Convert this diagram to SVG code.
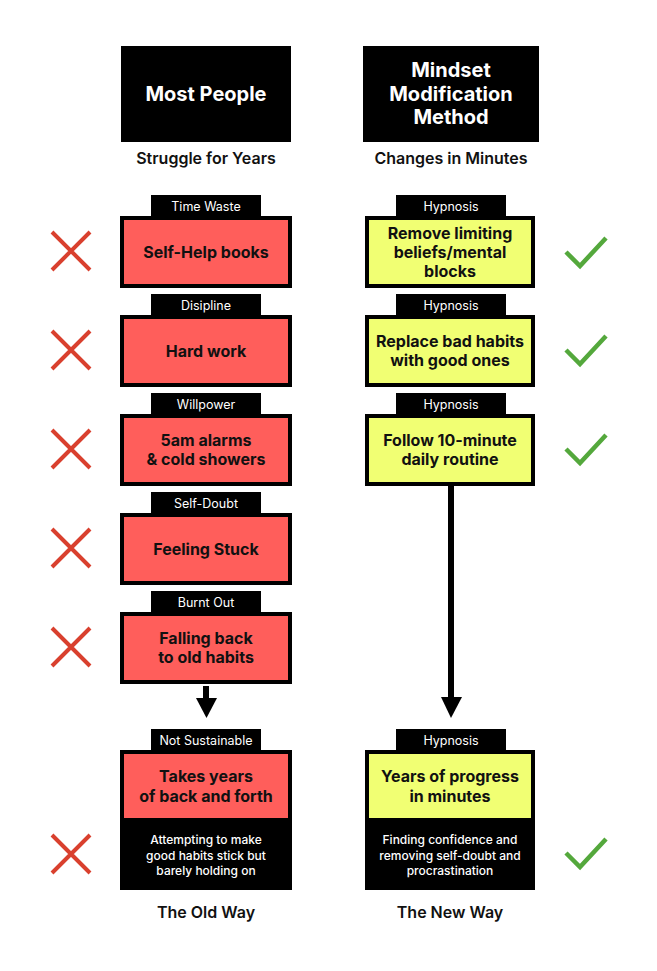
<svg xmlns="http://www.w3.org/2000/svg" width="657" height="971" viewBox="0 0 657 971">
<style>
.hdr{fill:#000}
.htxt{font-family:Inter,"Liberation Sans",sans-serif;font-weight:700;font-size:20px;fill:#fff;text-anchor:middle;dominant-baseline:central}
.sub{font-family:Inter,"Liberation Sans",sans-serif;font-weight:600;font-size:16px;fill:#111;text-anchor:middle;dominant-baseline:central}
.tag{fill:#000}
.ttxt{font-family:Inter,"Liberation Sans",sans-serif;font-weight:400;font-size:12.5px;fill:#fff;text-anchor:middle;dominant-baseline:central}
.red{fill:#FF5E5B;stroke:#000;stroke-width:4}
.yel{fill:#F1FF73;stroke:#000;stroke-width:4}
.ntxt{font-family:Inter,"Liberation Sans",sans-serif;font-weight:700;font-size:16px;fill:#111;text-anchor:middle;dominant-baseline:central}
.dtxt{font-family:Inter,"Liberation Sans",sans-serif;font-weight:500;font-size:12px;fill:#fff;text-anchor:middle;dominant-baseline:central}
.x{stroke:#D9402E;stroke-width:4;fill:none}
.ok{stroke:#54A83C;stroke-width:4.5;fill:none}
</style>
<rect width="657" height="971" fill="#fff"/>

<g id="header-left">
<rect class="hdr" x="121" y="46" width="170" height="96"/>
<text class="htxt" x="206" y="94">Most People</text>
<text class="sub" x="206" y="158">Struggle for Years</text>
</g>
<g id="header-right">
<rect class="hdr" x="363" y="46" width="176" height="96"/>
<text class="htxt" x="451" y="70">Mindset</text>
<text class="htxt" x="451" y="93.5">Modification</text>
<text class="htxt" x="451" y="117">Method</text>
<text class="sub" x="451" y="158">Changes in Minutes</text>
</g>

<g id="connectors">
<rect x="203" y="686" width="6" height="14" fill="#000"/>
<polygon points="196,698 217,698 206.5,718" fill="#000"/>
<rect x="448" y="486" width="6" height="214" fill="#000"/>
<polygon points="441,697 462,697 451,718" fill="#000"/>
</g>

<g id="L1">
<rect class="tag" x="151" y="195" width="110" height="21"/>
<text class="ttxt" x="206" y="206">Time Waste</text>
<rect class="red" x="122" y="218" width="168" height="68"/>
<text class="ntxt" x="206" y="252">Self-Help books</text>
<path class="x" d="M52,232 L90,270 M52,270 L90,232"/>
</g>
<g id="L2">
<rect class="tag" x="151" y="294" width="110" height="21"/>
<text class="ttxt" x="206" y="305">Disipline</text>
<rect class="red" x="122" y="317" width="168" height="68"/>
<text class="ntxt" x="206" y="351">Hard work</text>
<path class="x" d="M52,331 L90,369 M52,369 L90,331"/>
</g>
<g id="L3">
<rect class="tag" x="151" y="393" width="110" height="21"/>
<text class="ttxt" x="206" y="404">Willpower</text>
<rect class="red" x="122" y="416" width="168" height="68"/>
<text class="ntxt" x="206" y="440">5am alarms</text>
<text class="ntxt" x="206" y="459">&amp; cold showers</text>
<path class="x" d="M52,430 L90,468 M52,468 L90,430"/>
</g>
<g id="L4">
<rect class="tag" x="151" y="492" width="110" height="21"/>
<text class="ttxt" x="206" y="503">Self-Doubt</text>
<rect class="red" x="122" y="515" width="168" height="68"/>
<text class="ntxt" x="206" y="549">Feeling Stuck</text>
<path class="x" d="M52,529 L90,567 M52,567 L90,529"/>
</g>
<g id="L5">
<rect class="tag" x="151" y="591" width="110" height="21"/>
<text class="ttxt" x="206" y="602">Burnt Out</text>
<rect class="red" x="122" y="614" width="168" height="68"/>
<text class="ntxt" x="206" y="638">Falling back</text>
<text class="ntxt" x="206" y="657">to old habits</text>
<path class="x" d="M52,628 L90,666 M52,666 L90,628"/>
</g>
<g id="L6">
<rect class="tag" x="151" y="729" width="110" height="21"/>
<text class="ttxt" x="206" y="740">Not Sustainable</text>
<rect fill="#000" x="120" y="750" width="172" height="140"/>
<rect fill="#FF5E5B" x="124" y="754" width="164" height="64"/>
<text class="ntxt" x="206" y="776">Takes years</text>
<text class="ntxt" x="206" y="796">of back and forth</text>
<text class="dtxt" x="206" y="839">Attempting to make</text>
<text class="dtxt" x="206" y="855">good habits stick but</text>
<text class="dtxt" x="206" y="870">barely holding on</text>
<text class="sub" x="206" y="912">The Old Way</text>
<path class="x" d="M52,835 L90,873 M52,873 L90,835"/>
</g>

<g id="R1">
<rect class="tag" x="396" y="195" width="110" height="21"/>
<text class="ttxt" x="451" y="206">Hypnosis</text>
<rect class="yel" x="367" y="218" width="166" height="68"/>
<text class="ntxt" x="450" y="233">Remove limiting</text>
<text class="ntxt" x="450" y="252">beliefs/mental</text>
<text class="ntxt" x="450" y="271">blocks</text>
<path class="ok" d="M566,252 L580,266 L606,238"/>
</g>
<g id="R2">
<rect class="tag" x="396" y="294" width="110" height="21"/>
<text class="ttxt" x="451" y="305">Hypnosis</text>
<rect class="yel" x="367" y="317" width="166" height="68"/>
<text class="ntxt" x="450" y="341">Replace bad habits</text>
<text class="ntxt" x="450" y="360">with good ones</text>
<path class="ok" d="M566,350 L580,364 L606,336"/>
</g>
<g id="R3">
<rect class="tag" x="396" y="393" width="110" height="21"/>
<text class="ttxt" x="451" y="404">Hypnosis</text>
<rect class="yel" x="367" y="416" width="166" height="68"/>
<text class="ntxt" x="450" y="440">Follow 10-minute</text>
<text class="ntxt" x="450" y="459">daily routine</text>
<path class="ok" d="M566,449 L580,463 L606,435"/>
</g>
<g id="R4">
<rect class="tag" x="396" y="729" width="110" height="21"/>
<text class="ttxt" x="451" y="740">Hypnosis</text>
<rect fill="#000" x="365" y="750" width="170" height="140"/>
<rect fill="#F1FF73" x="369" y="754" width="162" height="64"/>
<text class="ntxt" x="450" y="776">Years of progress</text>
<text class="ntxt" x="450" y="796">in minutes</text>
<text class="dtxt" x="450" y="839">Finding confidence and</text>
<text class="dtxt" x="450" y="855">removing self-doubt and</text>
<text class="dtxt" x="450" y="870">procrastination</text>
<text class="sub" x="450" y="912">The New Way</text>
<path class="ok" d="M566,853 L580,867 L606,839"/>
</g>
</svg>
